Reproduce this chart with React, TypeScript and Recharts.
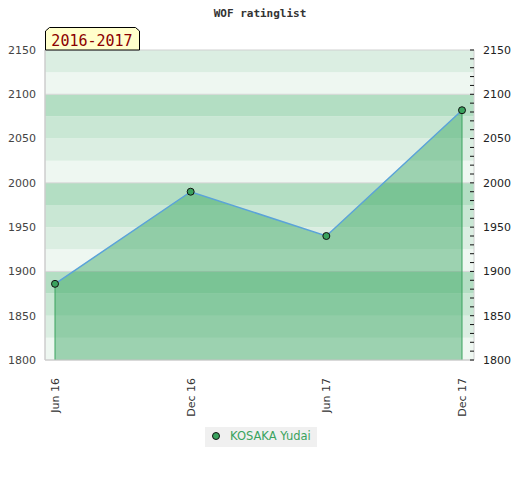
import {
  Area,
  ComposedChart,
  Line,
  ReferenceArea,
  ReferenceLine,
  XAxis,
  YAxis,
} from "recharts";

const chartTitle = "WOF ratinglist";
const seasonLabel = "2016-2017";
const playerName = "KOSAKA Yudai";

const periods = ["Jun 16", "Dec 16", "Jun 17", "Dec 17"];
const ratings = [1886, 1990, 1940, 2082];

const yMin = 1800;
const yMax = 2150;
const majorTicks = [1800, 1850, 1900, 1950, 2000, 2050, 2100, 2150];
const gridValues = [1900, 2000, 2100];

const data = periods.map((period, i) => ({ period, rating: ratings[i] }));

// minor ticks every 10 points on the right axis
const minorTicks: number[] = [];
for (let v = yMin; v <= yMax; v += 10) minorTicks.push(v);

// 25-point background stripes, shade repeats every 100
const bandShades = ["#eef7f1", "#dbeee2", "#c9e7d4", "#b3dec3"];
const bands: { y1: number; y2: number; fill: string }[] = [];
for (let v = yMin; v < yMax; v += 25) {
  bands.push({ y1: v, y2: v + 25, fill: bandShades[((v - yMin) % 100) / 25] });
}

const green = "#3aa35e";
const font = "'DejaVu Sans', sans-serif";

function XTick({ x, y, payload }: any) {
  return (
    <text
      x={x}
      y={y}
      dy="0.35em"
      transform={`rotate(-90, ${x}, ${y})`}
      textAnchor="end"
      fontSize={11}
      fontFamily={font}
      fill="#333"
    >
      {payload.value}
    </text>
  );
}

// right axis: small inward tick every 10, label every 50
function RightTick({ x, y, payload }: any) {
  return (
    <g>
      <line x1={x - 13} x2={x - 9} y1={y} y2={y} stroke="#111" strokeWidth={1} />
      {payload.value % 50 === 0 && (
        <text x={x} y={y} dy="0.35em" textAnchor="start" fontSize={11} fontFamily={font} fill="#222">
          {payload.value}
        </text>
      )}
    </g>
  );
}

export default function App() {
  const first = data[0];
  const last = data[data.length - 1];
  return (
    <div style={{ position: "absolute", left: 0, top: 0, width: 520, height: 480, background: "#fff" }}>
      <ComposedChart
        width={520}
        height={480}
        data={data}
        margin={{ top: 50, right: 6, bottom: 0, left: 5 }}
      >
        {/* the "frame" axis has no padding, so areas without x1/x2 span the whole plot */}
        {bands.map((b) => (
          <ReferenceArea
            key={b.y1}
            xAxisId="frame"
            yAxisId="left"
            y1={b.y1}
            y2={b.y2}
            fill={b.fill}
            fillOpacity={1}
            stroke="none"
            ifOverflow="visible"
            zIndex={-100}
          />
        ))}
        {gridValues.map((v) => (
          <ReferenceLine key={v} xAxisId="frame" yAxisId="left" y={v} stroke="#d6d6d6" strokeWidth={1} zIndex={-90} />
        ))}
        <ReferenceArea
          xAxisId="frame"
          yAxisId="left"
          y1={yMin}
          y2={yMax}
          fill="none"
          stroke="#d0d0d0"
          strokeWidth={1}
          ifOverflow="visible"
          zIndex={-80}
        />
        <XAxis xAxisId="frame" dataKey="period" height={0} hide />
        <XAxis
          xAxisId="main"
          dataKey="period"
          height={120}
          padding={{ left: 10, right: 12 }}
          tickLine={false}
          axisLine={{ stroke: "#cccccc" }}
          tickMargin={12}
          tick={<XTick />}
          interval={0}
        />
        <YAxis
          yAxisId="left"
          orientation="left"
          width={40}
          domain={[yMin, yMax]}
          ticks={majorTicks}
          allowDataOverflow
          tickLine={false}
          tickSize={0}
          tickMargin={9}
          axisLine={{ stroke: "#cccccc" }}
          tick={{ fontSize: 11, fontFamily: font, fill: "#444" }}
        />
        <YAxis
          yAxisId="right"
          orientation="right"
          width={40}
          domain={[yMin, yMax]}
          ticks={minorTicks}
          interval={0}
          allowDataOverflow
          axisLine={false}
          tickLine={false}
          tickSize={0}
          tickMargin={9}
          tick={<RightTick />}
        />
        <Area
          xAxisId="main"
          yAxisId="left"
          type="linear"
          dataKey="rating"
          name={playerName}
          stroke="none"
          fill="#2aa055"
          fillOpacity={0.42}
          dot={false}
          activeDot={false}
          isAnimationActive={false}
        />
        <ReferenceLine
          xAxisId="main"
          yAxisId="left"
          segment={[
            { x: first.period, y: yMin },
            { x: first.period, y: first.rating },
          ]}
          stroke={green}
          strokeWidth={1}
        />
        <ReferenceLine
          xAxisId="main"
          yAxisId="left"
          segment={[
            { x: last.period, y: yMin },
            { x: last.period, y: last.rating },
          ]}
          stroke={green}
          strokeWidth={1}
        />
        <Line
          xAxisId="main"
          yAxisId="left"
          type="linear"
          dataKey="rating"
          name={playerName}
          stroke="#5ba3d9"
          strokeWidth={1.5}
          dot={{ r: 3.5, fill: green, stroke: "#111", strokeWidth: 1, fillOpacity: 1 }}
          activeDot={false}
          isAnimationActive={false}
        />
      </ComposedChart>
      <svg
        width={520}
        height={480}
        style={{ position: "absolute", left: 0, top: 0, pointerEvents: "none" }}
      >
        <text
          x={260}
          y={17}
          textAnchor="middle"
          fontSize={11}
          fontWeight="bold"
          fontFamily="'DejaVu Sans Mono', monospace"
          fill="#333"
        >
          {chartTitle}
        </text>
        <polygon
          points="45.5,50 45.5,31 49.5,27.5 135.5,27.5 139.5,31 139.5,50"
          fill="#ffffcc"
          stroke="#000"
          strokeWidth={1}
        />
        <text
          x={92}
          y={46}
          textAnchor="middle"
          fontSize={15}
          fontFamily="'DejaVu Sans Mono', monospace"
          fill="#8b0000"
        >
          {seasonLabel}
        </text>
        <rect x={205} y={427} width={112} height={20} fill="#f0f0f0" />
        <circle cx={216} cy={436} r={3.5} fill={green} stroke="#111" strokeWidth={1} />
        <text x={230} y={440} fontSize={11.5} fontFamily={font} fill={green}>
          {playerName}
        </text>
      </svg>
    </div>
  );
}
